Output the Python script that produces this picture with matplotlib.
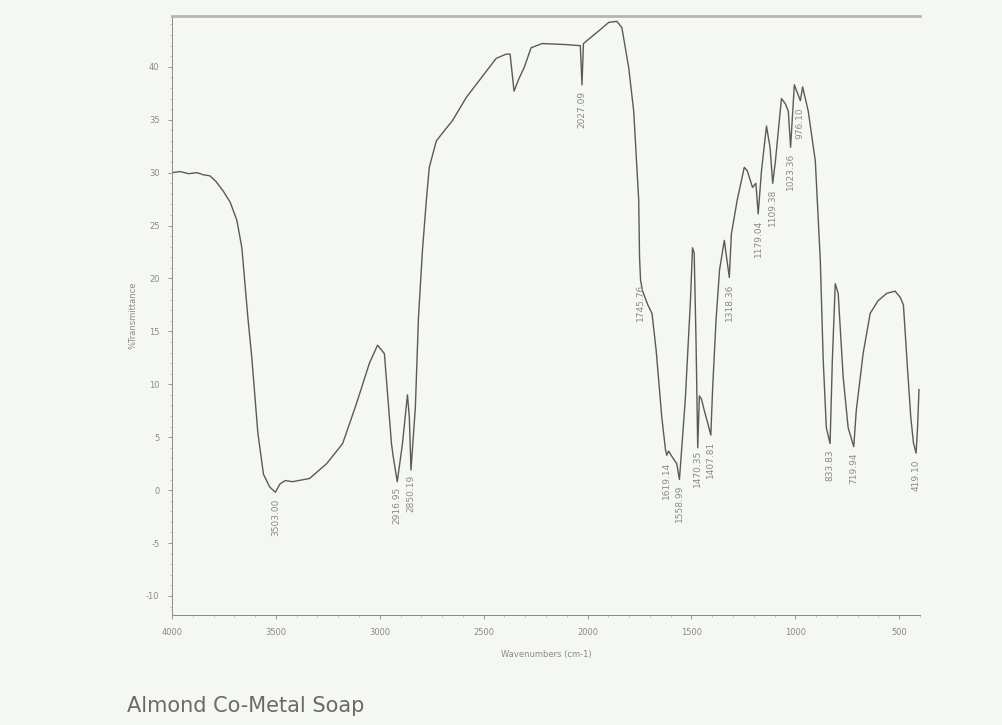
import matplotlib
matplotlib.use("Agg")
import matplotlib.pyplot as plt
import numpy as np
from matplotlib.ticker import MultipleLocator

# ---- data ----
wavenumber = [4000, 3960, 3920, 3880, 3850, 3818, 3790, 3755, 3720, 3688, 3664, 3635, 3616,
              3587, 3560, 3530, 3503, 3480, 3455, 3420, 3338, 3256, 3179, 3112, 3050, 3011,
              2978, 2954, 2944, 2935, 2916, 2891, 2867, 2858, 2850, 2829, 2814, 2795, 2776,
              2762, 2728, 2680, 2651, 2584, 2522, 2440, 2392, 2373, 2354, 2330, 2306, 2272,
              2219, 2104, 2035, 2027, 2020, 1946, 1898, 1859, 1835, 1802, 1778, 1763, 1754,
              1750, 1745, 1735, 1710, 1690, 1670, 1643, 1625, 1619, 1610, 1595, 1571, 1558,
              1530, 1505, 1495, 1487, 1478, 1470, 1462, 1452, 1438, 1420, 1407, 1398, 1382,
              1365, 1342, 1327, 1318, 1308, 1280, 1246, 1232, 1206, 1190, 1179, 1163, 1139,
              1122, 1109, 1096, 1067, 1048, 1034, 1023, 1005, 976, 965, 938, 904, 880, 866,
              851, 833, 822, 808, 794, 770, 746, 719, 707, 674, 640, 602, 560, 520, 495, 480,
              462, 445, 432, 419, 412, 405]
transmittance = [30.0, 30.1, 29.9, 30.0, 29.8, 29.7, 29.2, 28.3, 27.2, 25.5, 22.9, 16.3, 12.5,
                 5.4, 1.5, 0.3, -0.2, 0.6, 0.9, 0.8, 1.1, 2.5, 4.4, 8.2, 12.0, 13.7,
                 12.9, 6.9, 4.4, 3.1, 0.8, 4.4, 9.0, 6.9, 1.9, 7.8, 16.3, 22.6, 27.4,
                 30.5, 33.0, 34.2, 34.9, 37.1, 38.7, 40.8, 41.2, 41.2, 37.7, 38.9, 39.9, 41.8,
                 42.2, 42.1, 42.0, 38.3, 42.2, 43.4, 44.2, 44.3, 43.7, 39.9, 35.8, 30.5, 27.4,
                 22.0, 19.8, 18.8, 17.5, 16.7, 13.2, 6.9, 3.8, 3.3, 3.7, 3.2, 2.5, 1.0,
                 8.5, 17.9, 22.9, 22.4, 14.0, 4.0, 8.9, 8.6, 7.5, 6.2, 5.2, 9.7, 16.0,
                 20.8, 23.6, 21.4, 20.1, 24.2, 27.4, 30.5, 30.2, 28.6, 29.0, 26.1, 30.2, 34.4,
                 32.4, 29.0, 31.1, 37.0, 36.5, 35.8, 32.4, 38.3, 36.8, 38.1, 35.8, 31.1, 21.7, 12.3,
                 5.9, 4.4, 12.3, 19.5, 18.6, 10.7, 5.9, 4.1, 7.5, 12.9, 16.7, 17.9, 18.6, 18.8, 18.2, 17.5,
                 12.0, 7.0, 4.5, 3.5, 5.9, 9.5]

peak_labels = ["3503.00", "2916.95", "2850.19", "2027.09", "1745.76", "1619.14", "1558.99",
               "1470.35", "1407.81", "1318.36", "1179.04", "1109.38", "1023.36", "976.10",
               "833.83", "719.94", "419.10"]
peak_positions = [float(s) for s in peak_labels]

x_ticks = [4000, 3500, 3000, 2500, 2000, 1500, 1000, 500]
y_ticks = [40, 35, 30, 25, 20, 15, 10, 5, 0, -5, -10]

bg = "#f4f7f2"
ink = "#5a5a5a"
faint = "#8a8a8a"

fig = plt.figure(figsize=(10.02, 7.25), dpi=100, facecolor=bg)
ax = fig.add_axes([0.1717, 0.1517, 0.7465, 0.8262], facecolor=bg)

ax.plot(wavenumber, transmittance, color=ink, lw=1.0)

ax.set_xlim(4000, 400)
ax.set_ylim(-11.8, 44.8)

for lab, pos in zip(peak_labels, peak_positions):
    yv = np.interp(pos, wavenumber[::-1], transmittance[::-1])
    ax.text(pos, yv - 0.6, lab, rotation=90, ha="center", va="top",
            fontsize=6.5, color=faint)

ax.set_xticks(x_ticks)
ax.set_xticklabels([str(t) for t in x_ticks], fontsize=6, color=faint)
ax.set_yticks(y_ticks)
ax.set_yticklabels([str(t) for t in y_ticks], fontsize=6, color=faint)
ax.xaxis.set_minor_locator(MultipleLocator(100))
ax.yaxis.set_minor_locator(MultipleLocator(1))
ax.tick_params(axis="both", which="major", length=3, width=0.6, color=faint, pad=6)
ax.tick_params(axis="both", which="minor", length=1.5, width=0.5, color="#b0b0b0")

ax.spines["right"].set_visible(False)
ax.spines["top"].set_color("#b5b5b5")
ax.spines["top"].set_linewidth(2.0)
for side in ["left", "bottom"]:
    ax.spines[side].set_color(faint)
    ax.spines[side].set_linewidth(0.7)

ax.set_xlabel("Wavenumbers (cm-1)", fontsize=6, color=faint, labelpad=10)
ax.set_ylabel("%Transmittance", fontsize=6, color=faint, labelpad=6)

fig.text(0.127, 0.012, "Almond Co-Metal Soap", fontsize=15, color="#6a6a6a",
         ha="left", va="bottom", family="DejaVu Sans")

fig.savefig("out.png", dpi=100, facecolor=bg)
